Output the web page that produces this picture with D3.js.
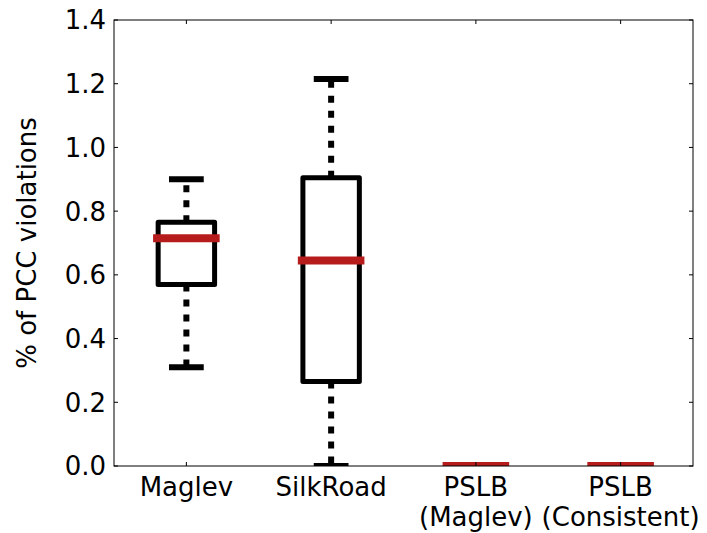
<!DOCTYPE html>
<html>
<head>
<meta charset="utf-8">
<script src="https://cdn.jsdelivr.net/npm/d3@7"></script>
<style>
  body { margin: 0; background: #fff; }
  svg { font-family: "DejaVu Sans", sans-serif; }
</style>
</head>
<body>
<div id="chart"></div>
<script>
var categories = [["Maglev"], ["SilkRoad"], ["PSLB", "(Maglev)"], ["PSLB", "(Consistent)"]];
var whiskerLow  = [0.31, 0.0, 0.0, 0.0];
var q1          = [0.57, 0.265, 0.0, 0.0];
var median      = [0.715, 0.645, 0.0, 0.0];
var q3          = [0.765, 0.905, 0.0, 0.0];
var whiskerHigh = [0.90, 1.215, 0.0, 0.0];
var yTicks = [0, 0.2, 0.4, 0.6, 0.8, 1.0, 1.2, 1.4];

var width = 707, height = 533;
var pLeft = 114, pRight = 693, pTop = 20, pBottom = 466;
var fs = 26;

var svg = d3.select("#chart").append("svg")
  .attr("width", width)
  .attr("height", height);

var x = d3.scaleLinear().domain([0.5, 4.5]).range([pLeft, pRight]);
var y = d3.scaleLinear().domain([0, 1.4]).range([pBottom, pTop]);

svg.append("clipPath").attr("id", "clip")
  .append("rect").attr("x", pLeft).attr("y", pTop)
  .attr("width", pRight - pLeft).attr("height", pBottom - pTop);

var g = svg.append("g").attr("clip-path", "url(#clip)");

var boxW = 0.39, medW = 0.46, capW = 0.24;

categories.forEach(function (c, i) {
  var p = i + 1;
  // whiskers
  g.append("line")
    .attr("x1", x(p)).attr("x2", x(p))
    .attr("y1", y(q1[i])).attr("y2", y(whiskerLow[i]))
    .attr("stroke", "#000").attr("stroke-width", 6)
    .attr("stroke-dasharray", "7,8");
  g.append("line")
    .attr("x1", x(p)).attr("x2", x(p))
    .attr("y1", y(q3[i])).attr("y2", y(whiskerHigh[i]))
    .attr("stroke", "#000").attr("stroke-width", 6)
    .attr("stroke-dasharray", "7,8");
  // caps
  [whiskerLow[i], whiskerHigh[i]].forEach(function (v) {
    g.append("line")
      .attr("x1", x(p - capW / 2)).attr("x2", x(p + capW / 2))
      .attr("y1", y(v)).attr("y2", y(v))
      .attr("stroke", "#000").attr("stroke-width", 6);
  });
  // box
  g.append("rect")
    .attr("x", x(p - boxW / 2))
    .attr("y", y(q3[i]))
    .attr("width", x(p + boxW / 2) - x(p - boxW / 2))
    .attr("height", y(q1[i]) - y(q3[i]))
    .attr("fill", "none")
    .attr("stroke", "#000").attr("stroke-width", 5)
    .attr("stroke-linejoin", "round");
  // median
  g.append("line")
    .attr("x1", x(p - medW / 2)).attr("x2", x(p + medW / 2))
    .attr("y1", y(median[i])).attr("y2", y(median[i]))
    .attr("stroke", "#b71c1c").attr("stroke-width", 8);
});

// frame
svg.append("rect")
  .attr("x", pLeft).attr("y", pTop)
  .attr("width", pRight - pLeft).attr("height", pBottom - pTop)
  .attr("fill", "none").attr("stroke", "#000").attr("stroke-width", 1);

// y ticks inside, left and right
yTicks.forEach(function (t) {
  svg.append("line").attr("x1", pLeft).attr("x2", pLeft + 4)
    .attr("y1", y(t)).attr("y2", y(t)).attr("stroke", "#000");
  svg.append("line").attr("x1", pRight).attr("x2", pRight - 4)
    .attr("y1", y(t)).attr("y2", y(t)).attr("stroke", "#000");
  svg.append("text")
    .attr("x", pLeft - 8).attr("y", y(t))
    .attr("dy", "0.36em")
    .attr("text-anchor", "end")
    .attr("font-size", fs)
    .text(d3.format(".1f")(t));
});

// x ticks inside, bottom and top
categories.forEach(function (c, i) {
  var p = i + 1;
  svg.append("line").attr("x1", x(p)).attr("x2", x(p))
    .attr("y1", pBottom).attr("y2", pBottom - 4).attr("stroke", "#000");
  svg.append("line").attr("x1", x(p)).attr("x2", x(p))
    .attr("y1", pTop).attr("y2", pTop + 4).attr("stroke", "#000");
  c.forEach(function (line, k) {
    svg.append("text")
      .attr("x", x(p)).attr("y", 496 + k * 30)
      .attr("text-anchor", "middle")
      .attr("font-size", fs)
      .text(line);
  });
});

svg.append("text")
  .attr("transform", "translate(36," + ((pTop + pBottom) / 2) + ") rotate(-90)")
  .attr("text-anchor", "middle")
  .attr("font-size", fs)
  .text("% of PCC violations");
</script>
</body>
</html>
